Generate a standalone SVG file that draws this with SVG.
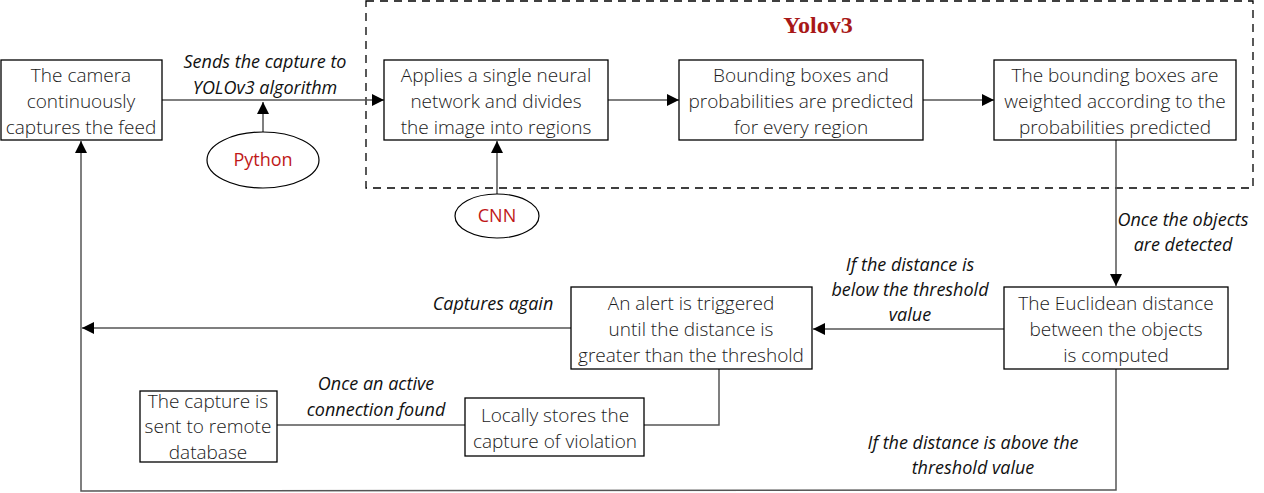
<svg xmlns="http://www.w3.org/2000/svg" width="1264" height="493" viewBox="0 0 1264 493">
<style>
.box{fill:#fff;stroke:#000;stroke-width:1.3}
.t{font-family:"Open Sans","Noto Sans",sans-serif;font-size:19px;font-weight:300;fill:#1a1a1a;text-anchor:middle}
.l{font-family:"Open Sans","Noto Sans",sans-serif;font-size:18px;font-style:italic;fill:#111;text-anchor:middle}
.r{font-family:"Open Sans","Noto Sans",sans-serif;font-size:18px;fill:#c01818;text-anchor:middle}
.c{fill:none;stroke:#555;stroke-width:1.5}
</style>
<defs>
<marker id="ah" viewBox="0 0 10 10" refX="10" refY="5" markerWidth="14" markerHeight="12" markerUnits="userSpaceOnUse" orient="auto">
<path d="M0,0 L10,5 L0,10 z" fill="#000"/>
</marker>
</defs>
<g id="yolo-group">
<rect x="366" y="1" width="887" height="187" fill="none" stroke="#000" stroke-width="1.3" stroke-dasharray="8,6"/>
<text x="818" y="33" font-family="'Liberation Serif',serif" font-weight="bold" font-size="24" fill="#a81818" text-anchor="middle">Yolov3</text>
</g>
<g id="connectors">
<line class="c" x1="162" y1="100" x2="384" y2="100" marker-end="url(#ah)"/>
<line class="c" x1="263" y1="132" x2="263" y2="102" marker-end="url(#ah)"/>
<line class="c" x1="608" y1="100" x2="679" y2="100" marker-end="url(#ah)"/>
<line class="c" x1="923" y1="100" x2="994" y2="100" marker-end="url(#ah)"/>
<line class="c" x1="497" y1="194" x2="497" y2="141" marker-end="url(#ah)"/>
<line class="c" x1="1116" y1="140" x2="1116" y2="286" marker-end="url(#ah)"/>
<line class="c" x1="1004" y1="329" x2="813" y2="329" marker-end="url(#ah)"/>
<line class="c" x1="571" y1="328" x2="82" y2="328" marker-end="url(#ah)"/>
<polyline class="c" points="719,369 719,425 644,425"/>
<line class="c" x1="465" y1="425" x2="277" y2="425"/>
<polyline class="c" points="1116,369 1116,490 81,491 81,141" marker-end="url(#ah)"/>
<text class="l" x="265" y="68">Sends the capture to</text>
<text class="l" x="265" y="94">YOLOv3 algorithm</text>
<text class="l" x="1183" y="226">Once the objects</text>
<text class="l" x="1183" y="251">are detected</text>
<text class="l" x="910" y="271">If the distance is</text>
<text class="l" x="910" y="296">below the threshold</text>
<text class="l" x="910" y="321">value</text>
<text class="l" x="493" y="310">Captures again</text>
<text class="l" x="376" y="390">Once an active</text>
<text class="l" x="376" y="416">connection found</text>
<text class="l" x="973" y="449">If the distance is above the</text>
<text class="l" x="973" y="474">threshold value</text>
</g>
<g id="camera">
<rect class="box" x="1" y="60" width="161" height="80"/>
<text class="t" x="81" y="82">The camera</text>
<text class="t" x="81" y="108">continuously</text>
<text class="t" x="81" y="134">captures the feed</text>
</g>
<g id="python">
<ellipse cx="263" cy="160" rx="56" ry="28" fill="#fff" stroke="#000" stroke-width="1.2"/>
<text class="r" x="263" y="166">Python</text>
</g>
<g id="cnn">
<ellipse cx="497" cy="216" rx="42" ry="22" fill="#fff" stroke="#000" stroke-width="1.2"/>
<text class="r" x="497" y="222">CNN</text>
</g>
<g id="apply">
<rect class="box" x="384" y="60" width="224" height="80"/>
<text class="t" x="496" y="82">Applies a single neural</text>
<text class="t" x="496" y="108">network and divides</text>
<text class="t" x="496" y="134">the image into regions</text>
</g>
<g id="bbox">
<rect class="box" x="679" y="60" width="244" height="80"/>
<text class="t" x="801" y="82">Bounding boxes and</text>
<text class="t" x="801" y="108">probabilities are predicted</text>
<text class="t" x="801" y="134">for every region</text>
</g>
<g id="weighted">
<rect class="box" x="994" y="60" width="242" height="80"/>
<text class="t" x="1115" y="82">The bounding boxes are</text>
<text class="t" x="1115" y="108">weighted according to the</text>
<text class="t" x="1115" y="134">probabilities predicted</text>
</g>
<g id="euclid">
<rect class="box" x="1004" y="287" width="224" height="82"/>
<text class="t" x="1116" y="310">The Euclidean distance</text>
<text class="t" x="1116" y="336">between the objects</text>
<text class="t" x="1116" y="362">is computed</text>
</g>
<g id="alert">
<rect class="box" x="571" y="287" width="241" height="82"/>
<text class="t" x="691" y="310">An alert is triggered</text>
<text class="t" x="691" y="336">until the distance is</text>
<text class="t" x="691" y="362">greater than the threshold</text>
</g>
<g id="local">
<rect class="box" x="465" y="398" width="179" height="58"/>
<text class="t" x="555" y="422">Locally stores the</text>
<text class="t" x="555" y="448">capture of violation</text>
</g>
<g id="remote">
<rect class="box" x="140" y="391" width="137" height="71"/>
<text class="t" x="208" y="408">The capture is</text>
<text class="t" x="208" y="433">sent to remote</text>
<text class="t" x="208" y="459">database</text>
</g>
</svg>
